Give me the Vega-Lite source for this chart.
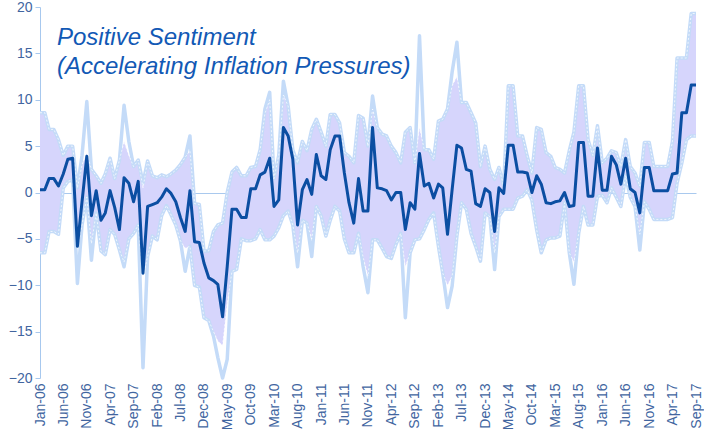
{
 "$schema": "https://vega.github.io/schema/vega-lite/v6.json",
 "width": 656, "height": 371,
 "autosize": {"type": "none"},
 "padding": {"left": 40, "top": 7, "right": 8, "bottom": 54},
 "background": "white",
 "config": {"view": {"stroke": null}, "font": "Liberation Sans",
   "axisX": {"labelOverlap": false, "labelFlush": false, "labelAngle": -90, "domain": false, "ticks": false, "grid": false, "labelColor": "#41659f", "labelFontSize": 14, "labelFont": "Liberation Sans", "labelPadding": 5},
   "axisY": {"domainColor": "#a7c8ee", "tickColor": "#a7c8ee", "tickSize": 5, "labelColor": "#41659f", "labelFontSize": 14, "labelFont": "Liberation Sans", "labelPadding": 3}},
 "title": {"text": ["Positive Sentiment", "(Accelerating Inflation Pressures)"], "anchor": "start", "frame": "group", "orient": "top", "baseline": "top", "offset": 0, "dx": 17, "dy": 79, "font": "Liberation Sans", "fontSize": 24, "fontStyle": "italic", "fontWeight": "normal", "color": "#1259b5", "lineHeight": 29},
 "data": {"values": [
{"d":"2006-01","med":0.3,"mx":8.6,"mn":-6.5,"hi":8.6,"lo":-6.5},
{"d":"2006-02","med":0.3,"mx":8.6,"mn":-6.5,"hi":8.6,"lo":-6.5},
{"d":"2006-03","med":1.5,"mx":6.8,"mn":-4.2,"hi":6.8,"lo":-4.2},
{"d":"2006-04","med":1.5,"mx":6.8,"mn":-4.2,"hi":6.8,"lo":-4.2},
{"d":"2006-05","med":0.7,"mx":5.7,"mn":-4.5,"hi":5.7,"lo":-4.5},
{"d":"2006-06","med":2.0,"mx":4.0,"mn":0.5,"hi":4.0,"lo":0.5},
{"d":"2006-07","med":3.6,"mx":5.0,"mn":1.2,"hi":5.0,"lo":1.2},
{"d":"2006-08","med":3.7,"mx":5.0,"mn":1.4,"hi":5.0,"lo":1.4},
{"d":"2006-09","med":-5.8,"mx":0.5,"mn":-9.8,"hi":0.5,"lo":-6.0},
{"d":"2006-10","med":-1.0,"mx":4.0,"mn":-3.5,"hi":3.0,"lo":-3.5},
{"d":"2006-11","med":3.9,"mx":9.8,"mn":-0.5,"hi":4.2,"lo":-0.5},
{"d":"2006-12","med":-2.5,"mx":2.5,"mn":-7.3,"hi":2.5,"lo":-5.5},
{"d":"2007-01","med":0.2,"mx":1.8,"mn":-2.2,"hi":1.8,"lo":-2.2},
{"d":"2007-02","med":-3.0,"mx":1.0,"mn":-6.3,"hi":1.0,"lo":-6.3},
{"d":"2007-03","med":-2.2,"mx":2.0,"mn":-6.7,"hi":2.0,"lo":-6.7},
{"d":"2007-04","med":0.2,"mx":3.7,"mn":-4.0,"hi":3.7,"lo":-4.0},
{"d":"2007-05","med":-1.6,"mx":1.5,"mn":-4.5,"hi":1.5,"lo":-4.5},
{"d":"2007-06","med":-4.0,"mx":3.5,"mn":-6.2,"hi":3.5,"lo":-6.2},
{"d":"2007-07","med":1.6,"mx":9.4,"mn":-8.0,"hi":5.5,"lo":-7.5},
{"d":"2007-08","med":1.0,"mx":5.5,"mn":-5.0,"hi":4.0,"lo":-5.0},
{"d":"2007-09","med":-1.0,"mx":2.8,"mn":-4.4,"hi":2.8,"lo":-4.4},
{"d":"2007-10","med":1.2,"mx":3.5,"mn":-3.5,"hi":3.5,"lo":-3.5},
{"d":"2007-11","med":-8.7,"mx":1.0,"mn":-18.9,"hi":0.5,"lo":-9.0},
{"d":"2007-12","med":-1.5,"mx":3.4,"mn":-6.9,"hi":3.4,"lo":-6.9},
{"d":"2008-01","med":-1.3,"mx":1.8,"mn":-4.7,"hi":1.8,"lo":-4.7},
{"d":"2008-02","med":-1.1,"mx":1.6,"mn":-5.1,"hi":1.6,"lo":-5.1},
{"d":"2008-03","med":-0.5,"mx":1.9,"mn":-2.5,"hi":1.9,"lo":-2.5},
{"d":"2008-04","med":0.4,"mx":1.7,"mn":-1.4,"hi":1.7,"lo":-1.4},
{"d":"2008-05","med":-0.1,"mx":2.0,"mn":-2.4,"hi":2.0,"lo":-2.4},
{"d":"2008-06","med":-1.0,"mx":2.4,"mn":-3.5,"hi":2.4,"lo":-3.5},
{"d":"2008-07","med":-2.7,"mx":3.0,"mn":-5.2,"hi":3.0,"lo":-5.2},
{"d":"2008-08","med":-4.2,"mx":3.8,"mn":-8.5,"hi":3.8,"lo":-6.0},
{"d":"2008-09","med":0.2,"mx":6.1,"mn":-5.8,"hi":4.5,"lo":-5.8},
{"d":"2008-10","med":-5.3,"mx":-1.2,"mn":-10.0,"hi":-1.2,"lo":-10.0},
{"d":"2008-11","med":-5.4,"mx":-1.3,"mn":-10.2,"hi":-1.3,"lo":-10.2},
{"d":"2008-12","med":-7.6,"mx":-6.3,"mn":-13.5,"hi":-6.3,"lo":-13.5},
{"d":"2009-01","med":-9.2,"mx":-6.3,"mn":-13.8,"hi":-6.3,"lo":-13.8},
{"d":"2009-02","med":-9.5,"mx":-4.2,"mn":-15.5,"hi":-4.2,"lo":-15.0},
{"d":"2009-03","med":-9.9,"mx":-3.5,"mn":-17.8,"hi":-3.5,"lo":-16.0},
{"d":"2009-04","med":-13.4,"mx":-3.3,"mn":-20.0,"hi":-3.3,"lo":-16.5},
{"d":"2009-05","med":-8.0,"mx":0.0,"mn":-18.0,"hi":0.0,"lo":-12.0},
{"d":"2009-06","med":-1.8,"mx":2.2,"mn":-8.5,"hi":2.2,"lo":-8.5},
{"d":"2009-07","med":-1.8,"mx":2.7,"mn":-8.3,"hi":2.7,"lo":-8.3},
{"d":"2009-08","med":-2.7,"mx":1.8,"mn":-5.0,"hi":1.8,"lo":-5.0},
{"d":"2009-09","med":-2.7,"mx":1.8,"mn":-5.2,"hi":1.8,"lo":-5.2},
{"d":"2009-10","med":0.4,"mx":2.7,"mn":-5.2,"hi":2.7,"lo":-5.2},
{"d":"2009-11","med":0.4,"mx":2.8,"mn":-5.0,"hi":2.8,"lo":-5.0},
{"d":"2009-12","med":1.9,"mx":4.6,"mn":-4.0,"hi":4.6,"lo":-4.0},
{"d":"2010-01","med":2.2,"mx":9.0,"mn":-5.1,"hi":8.5,"lo":-5.1},
{"d":"2010-02","med":3.7,"mx":10.8,"mn":-5.1,"hi":10.0,"lo":-5.1},
{"d":"2010-03","med":-1.5,"mx":1.5,"mn":-4.7,"hi":1.5,"lo":-4.7},
{"d":"2010-04","med":-0.8,"mx":4.0,"mn":-3.8,"hi":4.0,"lo":-3.8},
{"d":"2010-05","med":7.0,"mx":12.0,"mn":-2.5,"hi":10.5,"lo":-2.5},
{"d":"2010-06","med":6.1,"mx":9.3,"mn":-2.0,"hi":9.3,"lo":-2.0},
{"d":"2010-07","med":3.6,"mx":4.6,"mn":-3.5,"hi":4.6,"lo":-3.5},
{"d":"2010-08","med":-3.5,"mx":3.2,"mn":-8.0,"hi":3.2,"lo":-6.5},
{"d":"2010-09","med":0.3,"mx":5.5,"mn":-3.0,"hi":5.5,"lo":-3.0},
{"d":"2010-10","med":1.4,"mx":4.5,"mn":-3.3,"hi":4.5,"lo":-3.3},
{"d":"2010-11","med":-0.2,"mx":6.8,"mn":-6.9,"hi":6.8,"lo":-5.0},
{"d":"2010-12","med":4.1,"mx":7.9,"mn":-1.5,"hi":7.9,"lo":-1.5},
{"d":"2011-01","med":1.8,"mx":6.5,"mn":-2.5,"hi":6.5,"lo":-2.5},
{"d":"2011-02","med":1.4,"mx":5.0,"mn":-4.7,"hi":5.0,"lo":-4.7},
{"d":"2011-03","med":4.6,"mx":8.4,"mn":-3.0,"hi":8.4,"lo":-3.0},
{"d":"2011-04","med":6.1,"mx":8.4,"mn":-1.5,"hi":8.4,"lo":-1.5},
{"d":"2011-05","med":6.1,"mx":7.5,"mn":-2.0,"hi":7.5,"lo":-2.0},
{"d":"2011-06","med":2.1,"mx":4.3,"mn":-5.0,"hi":4.3,"lo":-5.0},
{"d":"2011-07","med":-1.1,"mx":3.9,"mn":-6.5,"hi":3.9,"lo":-6.5},
{"d":"2011-08","med":-3.3,"mx":3.2,"mn":-6.5,"hi":3.2,"lo":-6.5},
{"d":"2011-09","med":1.5,"mx":8.3,"mn":-4.4,"hi":8.3,"lo":-4.4},
{"d":"2011-10","med":-2.0,"mx":8.0,"mn":-8.0,"hi":8.0,"lo":-7.0},
{"d":"2011-11","med":-2.0,"mx":5.0,"mn":-10.8,"hi":5.0,"lo":-9.0},
{"d":"2011-12","med":7.0,"mx":10.4,"mn":-5.1,"hi":9.0,"lo":-5.1},
{"d":"2012-01","med":0.5,"mx":7.0,"mn":-5.1,"hi":7.0,"lo":-5.1},
{"d":"2012-02","med":0.4,"mx":6.3,"mn":-6.0,"hi":6.3,"lo":-6.0},
{"d":"2012-03","med":0.2,"mx":6.1,"mn":-6.9,"hi":6.1,"lo":-6.9},
{"d":"2012-04","med":-0.8,"mx":5.0,"mn":-7.1,"hi":5.0,"lo":-7.1},
{"d":"2012-05","med":0.0,"mx":4.3,"mn":-5.6,"hi":4.3,"lo":-5.6},
{"d":"2012-06","med":0.0,"mx":3.2,"mn":-4.4,"hi":3.2,"lo":-4.4},
{"d":"2012-07","med":-4.0,"mx":6.5,"mn":-13.5,"hi":6.5,"lo":-8.0},
{"d":"2012-08","med":-1.1,"mx":7.0,"mn":-6.5,"hi":7.0,"lo":-6.5},
{"d":"2012-09","med":-1.8,"mx":3.2,"mn":-5.1,"hi":3.2,"lo":-5.1},
{"d":"2012-10","med":4.2,"mx":16.9,"mn":-5.0,"hi":7.0,"lo":-5.0},
{"d":"2012-11","med":0.7,"mx":4.6,"mn":-4.0,"hi":4.6,"lo":-4.0},
{"d":"2012-12","med":1.0,"mx":4.6,"mn":-2.9,"hi":4.6,"lo":-2.9},
{"d":"2013-01","med":-0.6,"mx":3.6,"mn":-2.2,"hi":3.6,"lo":-2.2},
{"d":"2013-02","med":0.9,"mx":7.7,"mn":-5.8,"hi":7.7,"lo":-5.8},
{"d":"2013-03","med":0.5,"mx":7.9,"mn":-8.7,"hi":7.9,"lo":-8.7},
{"d":"2013-04","med":-4.5,"mx":9.0,"mn":-12.4,"hi":9.0,"lo":-10.0},
{"d":"2013-05","med":0.3,"mx":13.0,"mn":-10.1,"hi":11.5,"lo":-9.0},
{"d":"2013-06","med":5.1,"mx":16.2,"mn":-4.7,"hi":12.5,"lo":-4.7},
{"d":"2013-07","med":4.8,"mx":9.7,"mn":-1.1,"hi":9.7,"lo":-1.1},
{"d":"2013-08","med":2.5,"mx":9.7,"mn":-1.8,"hi":9.7,"lo":-1.8},
{"d":"2013-09","med":2.3,"mx":8.6,"mn":-4.4,"hi":8.6,"lo":-4.4},
{"d":"2013-10","med":-1.2,"mx":7.5,"mn":-5.8,"hi":7.5,"lo":-5.8},
{"d":"2013-11","med":-1.5,"mx":2.8,"mn":-7.4,"hi":2.8,"lo":-7.4},
{"d":"2013-12","med":0.4,"mx":5.0,"mn":-2.2,"hi":5.0,"lo":-2.2},
{"d":"2014-01","med":0.0,"mx":2.5,"mn":-2.6,"hi":2.5,"lo":-2.6},
{"d":"2014-02","med":-4.2,"mx":1.4,"mn":-8.3,"hi":1.4,"lo":-6.5},
{"d":"2014-03","med":0.5,"mx":2.7,"mn":-2.6,"hi":2.7,"lo":-2.6},
{"d":"2014-04","med":-0.1,"mx":0.7,"mn":-1.8,"hi":0.7,"lo":-1.8},
{"d":"2014-05","med":5.1,"mx":11.5,"mn":-1.8,"hi":11.5,"lo":-1.8},
{"d":"2014-06","med":5.1,"mx":11.5,"mn":-1.8,"hi":11.5,"lo":-1.8},
{"d":"2014-07","med":2.2,"mx":6.1,"mn":-0.6,"hi":6.1,"lo":-0.6},
{"d":"2014-08","med":2.2,"mx":6.1,"mn":-0.4,"hi":6.1,"lo":-0.4},
{"d":"2014-09","med":2.1,"mx":3.9,"mn":0.3,"hi":3.9,"lo":0.3},
{"d":"2014-10","med":0.0,"mx":2.1,"mn":-0.8,"hi":2.1,"lo":-0.8},
{"d":"2014-11","med":1.8,"mx":7.0,"mn":-4.0,"hi":7.0,"lo":-4.0},
{"d":"2014-12","med":0.9,"mx":6.8,"mn":-6.5,"hi":6.8,"lo":-6.5},
{"d":"2015-01","med":-1.1,"mx":4.3,"mn":-5.1,"hi":4.3,"lo":-5.1},
{"d":"2015-02","med":-1.2,"mx":3.9,"mn":-4.9,"hi":3.9,"lo":-4.9},
{"d":"2015-03","med":-1.0,"mx":2.7,"mn":-4.9,"hi":2.7,"lo":-4.9},
{"d":"2015-04","med":-0.9,"mx":2.5,"mn":-4.7,"hi":2.5,"lo":-4.7},
{"d":"2015-05","med":0.0,"mx":2.1,"mn":-1.1,"hi":2.1,"lo":-1.1},
{"d":"2015-06","med":-1.5,"mx":4.5,"mn":-6.5,"hi":4.5,"lo":-6.5},
{"d":"2015-07","med":-1.4,"mx":6.5,"mn":-9.9,"hi":6.5,"lo":-7.5},
{"d":"2015-08","med":5.4,"mx":11.5,"mn":-4.4,"hi":11.5,"lo":-4.4},
{"d":"2015-09","med":5.4,"mx":11.5,"mn":-1.5,"hi":11.5,"lo":-1.5},
{"d":"2015-10","med":-0.4,"mx":5.7,"mn":-3.5,"hi":5.7,"lo":-3.5},
{"d":"2015-11","med":-0.4,"mx":4.0,"mn":-3.5,"hi":4.0,"lo":-3.5},
{"d":"2015-12","med":4.8,"mx":7.2,"mn":-0.4,"hi":7.2,"lo":-0.4},
{"d":"2016-01","med":0.25,"mx":3.2,"mn":-0.3,"hi":3.2,"lo":-0.3},
{"d":"2016-02","med":0.25,"mx":3.7,"mn":-1.1,"hi":3.7,"lo":-1.1},
{"d":"2016-03","med":3.9,"mx":4.5,"mn":0.5,"hi":4.5,"lo":0.5},
{"d":"2016-04","med":3.0,"mx":4.3,"mn":-0.5,"hi":4.3,"lo":-0.5},
{"d":"2016-05","med":0.9,"mx":2.8,"mn":-1.5,"hi":2.8,"lo":-1.5},
{"d":"2016-06","med":3.7,"mx":5.7,"mn":1.8,"hi":5.7,"lo":1.8},
{"d":"2016-07","med":0.4,"mx":2.8,"mn":-0.5,"hi":2.8,"lo":-0.5},
{"d":"2016-08","med":0.0,"mx":2.1,"mn":-1.5,"hi":2.1,"lo":-1.5},
{"d":"2016-09","med":-2.2,"mx":0.7,"mn":-6.2,"hi":0.7,"lo":-4.5},
{"d":"2016-10","med":2.7,"mx":5.4,"mn":-1.0,"hi":5.4,"lo":-1.0},
{"d":"2016-11","med":2.7,"mx":5.4,"mn":-1.8,"hi":5.4,"lo":-1.8},
{"d":"2016-12","med":0.2,"mx":2.8,"mn":-2.9,"hi":2.8,"lo":-2.9},
{"d":"2017-01","med":0.2,"mx":2.8,"mn":-2.9,"hi":2.8,"lo":-2.9},
{"d":"2017-02","med":0.2,"mx":2.8,"mn":-2.9,"hi":2.8,"lo":-2.9},
{"d":"2017-03","med":0.2,"mx":2.8,"mn":-2.9,"hi":2.8,"lo":-2.9},
{"d":"2017-04","med":2.0,"mx":5.5,"mn":-2.7,"hi":5.5,"lo":-2.7},
{"d":"2017-05","med":2.1,"mx":14.5,"mn":1.0,"hi":14.5,"lo":1.0},
{"d":"2017-06","med":8.6,"mx":14.5,"mn":3.2,"hi":14.5,"lo":3.2},
{"d":"2017-07","med":8.6,"mx":14.5,"mn":5.7,"hi":14.5,"lo":5.7},
{"d":"2017-08","med":11.6,"mx":19.3,"mn":6.1,"hi":19.3,"lo":6.1},
{"d":"2017-09","med":11.6,"mx":19.3,"mn":6.1,"hi":19.3,"lo":6.1}
 ]},
 "encoding": {
  "x": {"field": "d", "type": "temporal", "timeUnit": "utcyearmonth", "title": null,
   "scale": {"domain": [{"year": 2006, "month": "jan", "utc": true}, {"year": 2017, "month": "sep", "utc": true}]},
   "axis": {"values": [
     {"year": 2006, "month": "jan", "utc": true}, {"year": 2006, "month": "jun", "utc": true}, {"year": 2006, "month": "nov", "utc": true},
     {"year": 2007, "month": "apr", "utc": true}, {"year": 2007, "month": "sep", "utc": true}, {"year": 2008, "month": "feb", "utc": true},
     {"year": 2008, "month": "jul", "utc": true}, {"year": 2008, "month": "dec", "utc": true}, {"year": 2009, "month": "may", "utc": true},
     {"year": 2009, "month": "oct", "utc": true}, {"year": 2010, "month": "mar", "utc": true}, {"year": 2010, "month": "aug", "utc": true},
     {"year": 2011, "month": "jan", "utc": true}, {"year": 2011, "month": "jun", "utc": true}, {"year": 2011, "month": "nov", "utc": true},
     {"year": 2012, "month": "apr", "utc": true}, {"year": 2012, "month": "sep", "utc": true}, {"year": 2013, "month": "feb", "utc": true},
     {"year": 2013, "month": "jul", "utc": true}, {"year": 2013, "month": "dec", "utc": true}, {"year": 2014, "month": "may", "utc": true},
     {"year": 2014, "month": "oct", "utc": true}, {"year": 2015, "month": "mar", "utc": true}, {"year": 2015, "month": "aug", "utc": true},
     {"year": 2016, "month": "jan", "utc": true}, {"year": 2016, "month": "jun", "utc": true}, {"year": 2016, "month": "nov", "utc": true},
     {"year": 2017, "month": "apr", "utc": true}, {"year": 2017, "month": "sep", "utc": true}],
    "format": "%b-%y", "labelOverlap": false, "labelFlush": false, "title": null}}
 },
 "layer": [
  {"mark": {"type": "area", "color": "#d6d5fc", "opacity": 1},
   "encoding": {
    "y": {"field": "lo", "type": "quantitative", "title": null,
      "scale": {"domain": [-20, 20], "nice": false, "zero": false},
      "axis": {"values": [-20, -15, -10, -5, 0, 5, 10, 15, 20], "title": null, "grid": true, "gridColor": "#a9c9ee", "gridWidth": 1,
        "gridOpacity": {"condition": {"test": "datum.value === 0", "value": 1}, "value": 0}}},
    "y2": {"field": "hi"}}},
  {"mark": {"type": "line", "color": "#c4dbf8", "strokeWidth": 3.5, "strokeJoin": "round"},
   "encoding": {"y": {"field": "mx", "type": "quantitative", "title": null}}},
  {"mark": {"type": "line", "color": "#c4dbf8", "strokeWidth": 3.5, "strokeJoin": "round"},
   "encoding": {"y": {"field": "mn", "type": "quantitative", "title": null}}},
  {"mark": {"type": "line", "color": "#ffffff", "strokeWidth": 0.8, "strokeDash": [2, 2], "opacity": 0.9},
   "encoding": {"y": {"field": "hi", "type": "quantitative", "title": null}}},
  {"mark": {"type": "line", "color": "#ffffff", "strokeWidth": 0.8, "strokeDash": [2, 2], "opacity": 0.9},
   "encoding": {"y": {"field": "lo", "type": "quantitative", "title": null}}},
  {"mark": {"type": "line", "color": "#0b4ea2", "strokeWidth": 3, "strokeJoin": "round"},
   "encoding": {"y": {"field": "med", "type": "quantitative", "title": null}}}
 ]
}
